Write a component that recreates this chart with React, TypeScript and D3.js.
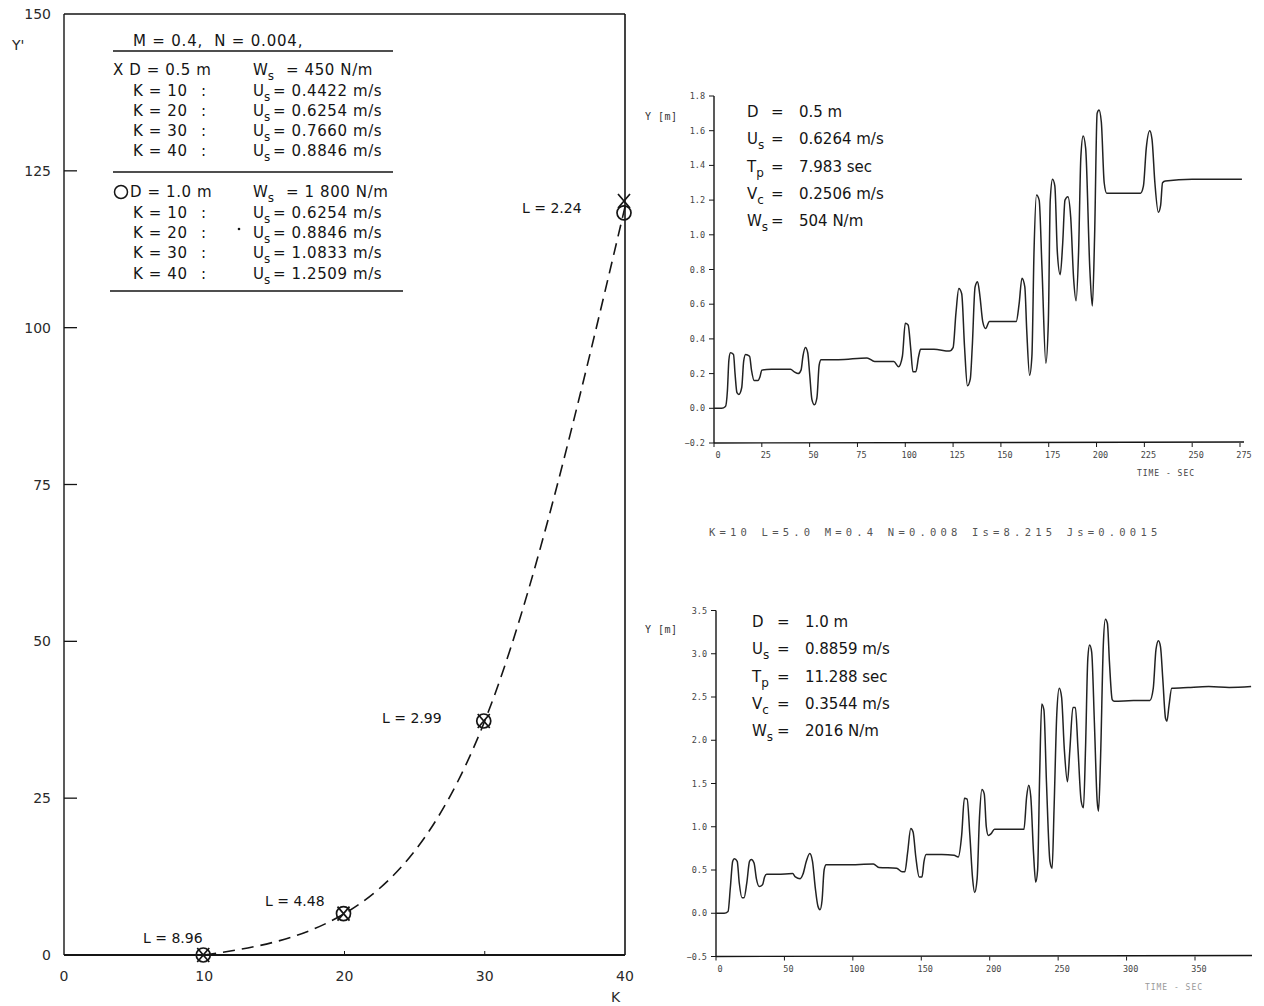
import React from "react";
import * as d3 from "d3";

// ---------- Left chart data ----------
const kValues = [10, 20, 30, 40];
const yPrimeSmall = [0, 6.6, 37.3, 120.2]; // D = 0.5 m (X)
const yPrimeLarge = [0, 6.6, 37.3, 118.3]; // D = 1.0 m (O)
const lLabels = ["L = 8.96", "L = 4.48", "L = 2.99", "L = 2.24"];
const leftYTicks = [0, 25, 50, 75, 100, 125, 150];
const leftXTicks = [0, 10, 20, 30, 40];

const legendTitle = "M = 0.4,  N = 0.004,";
const legendK = ["K = 10", "K = 20", "K = 30", "K = 40"];
const usSmall = ["= 0.4422 m/s", "= 0.6254 m/s", "= 0.7660 m/s", "= 0.8846 m/s"];
const usLarge = ["= 0.6254 m/s", "= 0.8846 m/s", "= 1.0833 m/s", "= 1.2509 m/s"];

// ---------- Top-right time series (D = 0.5 m) ----------
const topSeries: [number, number][] = [
  [0, 0], [4, 0], [6, 0.01], [7, 0.1], [7.8, 0.28], [8.6, 0.32], [10.2, 0.31], [11, 0.2], [12, 0.09], [13, 0.08],
  [14.5, 0.12], [15.5, 0.27], [16.5, 0.31], [18.6, 0.3], [19.6, 0.22], [21, 0.16], [23, 0.16], [24, 0.18], [25, 0.22],
  [30, 0.225], [40, 0.225], [42, 0.21], [44, 0.2], [45.5, 0.22], [46.5, 0.3], [47.8, 0.35], [49, 0.32], [50, 0.2],
  [51.2, 0.05], [52.5, 0.02], [53.8, 0.06], [55, 0.25], [56, 0.28], [65, 0.28], [80, 0.29], [84, 0.27], [94, 0.27],
  [96.5, 0.24], [98.5, 0.3], [100, 0.49], [101.5, 0.48], [102.8, 0.35], [104, 0.21], [105.5, 0.21], [107, 0.3],
  [108, 0.34], [115, 0.34], [123, 0.33], [125, 0.35], [126.5, 0.55], [128, 0.69], [129.5, 0.66], [131, 0.35],
  [132.5, 0.13], [134, 0.17], [135, 0.35], [136.5, 0.7], [137.8, 0.73], [139, 0.65], [140.5, 0.5], [142, 0.46],
  [144, 0.5], [158, 0.5], [159.5, 0.6], [161, 0.75], [162.5, 0.7], [163.5, 0.45], [165, 0.19], [166.2, 0.3],
  [167.3, 0.9], [168.6, 1.23], [170, 1.2], [171.5, 0.8], [173.5, 0.26], [174.8, 0.5], [175.8, 1.2], [177, 1.32],
  [178.2, 1.28], [179.5, 0.9], [181, 0.77], [182.3, 0.95], [183.5, 1.2], [185, 1.22], [186.5, 1.1], [188, 0.75],
  [189.3, 0.62], [190.6, 0.9], [191.8, 1.45], [193, 1.57], [194.3, 1.5], [196.5, 0.8], [197.8, 0.59], [199, 1.0],
  [200.3, 1.7], [201.3, 1.72], [202.5, 1.65], [204, 1.3], [205.3, 1.24], [215, 1.24], [223, 1.24], [224.5, 1.28],
  [226, 1.5], [227.8, 1.6], [229, 1.55], [230.5, 1.3], [232.3, 1.13], [233.5, 1.17], [234.5, 1.3], [236, 1.31],
  [250, 1.32], [260, 1.32], [276, 1.32],
];
const topYTicks = [-0.2, 0, 0.2, 0.4, 0.6, 0.8, 1.0, 1.2, 1.4, 1.6, 1.8];
const topXTicks = [0, 25, 50, 75, 100, 125, 150, 175, 200, 225, 250, 275];
const topLabels = ["D", "U", "T", "V", "W"];
const topSubs = ["", "s", "p", "c", "s"];
const topValues = ["0.5 m", "0.6264 m/s", "7.983 sec", "0.2506 m/s", "504 N/m"];

// ---------- Bottom-right time series (D = 1.0 m) ----------
const bottomSeries: [number, number][] = [
  [0, 0], [6, 0], [8.8, 0.02], [10.5, 0.3], [12.2, 0.6], [13.4, 0.63], [15.5, 0.6], [17, 0.35], [19, 0.18], [20.5, 0.18],
  [22.5, 0.35], [24.5, 0.6], [25.8, 0.62], [27.8, 0.58], [29.5, 0.4], [31.5, 0.31], [34, 0.33], [35.5, 0.42], [37, 0.45],
  [45, 0.45], [56, 0.46], [58, 0.42], [61.5, 0.4], [63.5, 0.45], [66, 0.6], [68.5, 0.69], [70.5, 0.6], [72.5, 0.3],
  [74.5, 0.08], [76, 0.04], [77.5, 0.15], [79, 0.5], [80.5, 0.56], [95, 0.56], [115, 0.57], [119, 0.53], [132, 0.52],
  [136, 0.48], [138, 0.48], [140, 0.7], [142.3, 0.98], [144, 0.94], [146, 0.65], [148.5, 0.42], [150.5, 0.42],
  [152, 0.6], [153.5, 0.68], [165, 0.68], [174, 0.67], [177, 0.65], [179.5, 0.9], [181.5, 1.33], [183.5, 1.32],
  [185.5, 0.9], [187.5, 0.4], [189, 0.24], [190.8, 0.4], [192.5, 1.1], [194.3, 1.43], [196, 1.38], [197.5, 1.0],
  [199, 0.9], [201, 0.92], [203.5, 0.97], [225, 0.97], [227, 1.35], [228.5, 1.48], [230, 1.35], [232, 0.7],
  [233.6, 0.36], [235, 0.5], [236.5, 1.6], [238, 2.42], [239.6, 2.35], [241.5, 1.5], [244, 0.6], [245.6, 0.52],
  [247, 1.2], [249, 2.3], [250.8, 2.6], [252.5, 2.5], [254.5, 1.9], [256.8, 1.52], [258.6, 1.9], [260.8, 2.38],
  [262.6, 2.38], [264.5, 1.9], [266.8, 1.3], [268.5, 1.22], [270, 1.9], [271.7, 2.95], [273, 3.1], [274.5, 3.02],
  [276.5, 2.2], [278.5, 1.3], [279.5, 1.18], [281, 1.8], [283, 3.1], [284.5, 3.4], [286, 3.35], [287.5, 2.9],
  [289.5, 2.47], [291, 2.45], [305, 2.46], [317, 2.46], [319.5, 2.6], [321.5, 3.05], [323.3, 3.15], [324.8, 3.08],
  [326.5, 2.7], [328.5, 2.25], [329.5, 2.22], [331, 2.4], [333, 2.6], [345, 2.61], [360, 2.62], [375, 2.61], [391, 2.62],
];
const bottomYTicks = [-0.5, 0, 0.5, 1.0, 1.5, 2.0, 2.5, 3.0, 3.5];
const bottomXTicks = [0, 50, 100, 150, 200, 250, 300, 350];
const bottomValues = ["1.0 m", "0.8859 m/s", "11.288 sec", "0.3544 m/s", "2016 N/m"];

const middleCaption = "K=10 L=5.0 M=0.4 N=0.008 Is=8.215 Js=0.0015";

const INK = "#151515";
const SANS = "'DejaVu Sans', 'Liberation Sans', sans-serif";
const MONO = "'DejaVu Sans Mono', 'Liberation Mono', monospace";

function Sub({ x, y, main, sub, size = 15 }: { x: number; y: number; main: string; sub: string; size?: number }) {
  return (
    <text x={x} y={y} fontFamily={SANS} fontSize={size} fill={INK}>
      {main}
      {sub ? (
        <tspan fontSize={size * 0.8} dy={5}>
          {sub}
        </tspan>
      ) : null}
    </text>
  );
}

function LeftChart() {
  const x = d3.scaleLinear().domain([0, 40]).range([64, 625]);
  const y = d3.scaleLinear().domain([0, 150]).range([955, 14]);
  const mean = kValues.map((k, i) => [k, (yPrimeSmall[i] + yPrimeLarge[i]) / 2] as [number, number]);
  const path = d3
    .line<[number, number]>()
    .x((d) => x(d[0]))
    .y((d) => y(d[1]))
    .curve(d3.curveMonotoneX)(mean);
  const lPos: [number, number][] = [
    [143, 943],
    [265, 906],
    [382, 723],
    [522, 213],
  ];
  const rowY1 = [75, 96, 116, 136, 156];
  const rowY2 = [197, 218, 238, 258, 279];
  const txt = { fontFamily: SANS, fontSize: 15, fill: INK } as const;
  return (
    <g>
      {/* frame */}
      <line x1={x(0)} y1={y(0)} x2={x(0)} y2={y(150)} stroke={INK} strokeWidth={1.4} />
      <line x1={x(0)} y1={y(150)} x2={x(40)} y2={y(150)} stroke={INK} strokeWidth={1.6} />
      <line x1={x(40)} y1={y(150)} x2={x(40)} y2={y(0)} stroke={INK} strokeWidth={1.6} />
      <line x1={x(0)} y1={y(0)} x2={x(40)} y2={y(0)} stroke={INK} strokeWidth={1.8} />
      {leftYTicks.map((t) => (
        <g key={"ly" + t}>
          {t > 0 && t < 150 ? (
            <line x1={x(0)} x2={x(0) + 13} y1={y(t)} y2={y(t)} stroke={INK} strokeWidth={1.3} />
          ) : null}
          <text x={51} y={y(t) + 5} textAnchor="end" fontFamily={SANS} fontSize={14} fill="#2a2a2a">
            {t}
          </text>
        </g>
      ))}
      {leftXTicks.map((t) => (
        <text key={"lx" + t} x={x(t)} y={981} textAnchor="middle" fontFamily={SANS} fontSize={14} fill="#2a2a2a">
          {t}
        </text>
      ))}
      {[20, 30].map((t) => (
        <line key={"mt" + t} x1={x(t)} x2={x(t)} y1={y(0)} y2={y(0) - 4} stroke={INK} strokeWidth={1} />
      ))}
      <text x={12} y={50} fontFamily={SANS} fontSize={14} fill="#2a2a2a">
        Y'
      </text>
      <text x={611} y={1002} fontFamily={SANS} fontSize={14} fill="#2a2a2a">
        K
      </text>

      {/* dashed curve */}
      <path d={path || ""} fill="none" stroke={INK} strokeWidth={1.6} strokeDasharray="12 7" />

      {/* markers */}
      {kValues.map((k, i) => (
        <g key={"mk" + k}>
          <circle cx={x(k) - 1} cy={y(yPrimeLarge[i])} r={7} fill="none" stroke={INK} strokeWidth={1.7} />
          <path
            d={`M${x(k) - 7},${y(yPrimeSmall[i]) - 7}L${x(k) + 5},${y(yPrimeSmall[i]) + 7}M${x(k) + 5},${y(yPrimeSmall[i]) - 7}L${x(k) - 7},${y(yPrimeSmall[i]) + 7}`}
            stroke={INK}
            strokeWidth={1.7}
            fill="none"
          />
        </g>
      ))}
      {lLabels.map((l, i) => (
        <text key={l} x={lPos[i][0]} y={lPos[i][1]} fontFamily={SANS} fontSize={14} fill={INK}>
          {l}
        </text>
      ))}

      {/* legend */}
      <text x={133} y={46} {...txt} letterSpacing={0.8} style={{ whiteSpace: "pre" }}>
        {legendTitle}
      </text>
      <line x1={113} x2={393} y1={51} y2={51} stroke={INK} strokeWidth={1.3} />
      <text x={113} y={rowY1[0]} {...txt} letterSpacing={0.6}>
        X D = 0.5 m
      </text>
      <Sub x={253} y={rowY1[0]} main="W" sub="s" />
      <text x={286} y={rowY1[0]} {...txt} letterSpacing={0.6}>
        = 450 N/m
      </text>
      {legendK.map((k, i) => (
        <g key={"l1" + k}>
          <text x={133} y={rowY1[i + 1]} {...txt} letterSpacing={0.6}>
            {k}
          </text>
          <text x={201} y={rowY1[i + 1]} {...txt}>
            :
          </text>
          <Sub x={253} y={rowY1[i + 1]} main="U" sub="s" />
          <text x={273} y={rowY1[i + 1]} {...txt} letterSpacing={0.6}>
            {usSmall[i]}
          </text>
        </g>
      ))}
      <line x1={113} x2={393} y1={172} y2={172} stroke={INK} strokeWidth={1.3} />
      <circle cx={121} cy={rowY2[0] - 5} r={6.5} fill="none" stroke={INK} strokeWidth={1.5} />
      <text x={130} y={rowY2[0]} {...txt} letterSpacing={0.6}>
        D = 1.0 m
      </text>
      <Sub x={253} y={rowY2[0]} main="W" sub="s" />
      <text x={286} y={rowY2[0]} {...txt} letterSpacing={0.6}>
        = 1 800 N/m
      </text>
      {legendK.map((k, i) => (
        <g key={"l2" + k}>
          <text x={133} y={rowY2[i + 1]} {...txt} letterSpacing={0.6}>
            {k}
          </text>
          <text x={201} y={rowY2[i + 1]} {...txt}>
            :
          </text>
          <Sub x={253} y={rowY2[i + 1]} main="U" sub="s" />
          <text x={273} y={rowY2[i + 1]} {...txt} letterSpacing={0.6}>
            {usLarge[i]}
          </text>
        </g>
      ))}
      <circle cx={239} cy={229} r={1.3} fill={INK} />
      <line x1={110} x2={403} y1={291} y2={291} stroke={INK} strokeWidth={1.3} />
    </g>
  );
}

function TimeChart({
  series,
  xDomain,
  xRange,
  yDomain,
  yRange,
  xTicks,
  yTicks,
  axisEnd,
  values,
  labelX,
  eqX,
  valueX,
  textTop,
  yLabelY,
  timeLabelY,
  timeLabelX,
  faint,
}: {
  series: [number, number][];
  xDomain: [number, number];
  xRange: [number, number];
  yDomain: [number, number];
  yRange: [number, number];
  xTicks: number[];
  yTicks: number[];
  axisEnd: number;
  values: string[];
  labelX: number;
  eqX: number;
  valueX: number;
  textTop: number;
  yLabelY: number;
  timeLabelY: number;
  timeLabelX: number;
  faint: boolean;
}) {
  const x = d3.scaleLinear().domain(xDomain).range(xRange);
  const y = d3.scaleLinear().domain(yDomain).range(yRange);
  const path = d3
    .line<[number, number]>()
    .x((d) => x(d[0]))
    .y((d) => y(d[1]))
    .curve(d3.curveMonotoneX)(series);
  const x0 = x(xDomain[0]);
  const yBottom = y(yDomain[0]);
  const yTop = y(yDomain[1]);
  const fmt = d3.format(".1f");
  return (
    <g>
      <line x1={x0} x2={x0} y1={yTop} y2={yBottom} stroke={INK} strokeWidth={1.4} />
      <line x1={x0} x2={axisEnd} y1={yBottom} y2={yBottom - 1} stroke={INK} strokeWidth={1.4} />
      {yTicks.map((t) => (
        <g key={"y" + t}>
          <line x1={x0 - 5} x2={x0} y1={y(t)} y2={y(t)} stroke={INK} strokeWidth={1} />
          <text x={x0 - 9} y={y(t) + 3} textAnchor="end" fontFamily={MONO} fontSize={8.5} fill="#444">
            {fmt(t)}
          </text>
        </g>
      ))}
      {xTicks.map((t) => (
        <g key={"x" + t}>
          <line x1={x(t)} x2={x(t)} y1={yBottom} y2={yBottom + 4} stroke={INK} strokeWidth={1} />
          <text x={x(t) + 4} y={yBottom + 15} textAnchor="middle" fontFamily={MONO} fontSize={8.5} fill="#444">
            {t}
          </text>
        </g>
      ))}
      <text x={645} y={yLabelY} fontFamily={MONO} fontSize={10} fill="#333" letterSpacing={0.5}>
        Y [m]
      </text>
      <text
        x={timeLabelX}
        y={timeLabelY}
        textAnchor="middle"
        fontFamily={MONO}
        fontSize={8}
        fill={faint ? "#999" : "#444"}
        letterSpacing={1}
      >
        TIME - SEC
      </text>
      <path d={path || ""} fill="none" stroke="#222" strokeWidth={1.5} strokeLinejoin="round" />
      {topLabels.map((l, i) => (
        <g key={"a" + l + i}>
          <Sub x={labelX} y={textTop + i * 27.3} main={l} sub={topSubs[i]} />
          <text x={eqX} y={textTop + i * 27.3} fontFamily={SANS} fontSize={15} fill={INK}>
            =
          </text>
          <text x={valueX} y={textTop + i * 27.3} fontFamily={SANS} fontSize={15} fill={INK}>
            {values[i]}
          </text>
        </g>
      ))}
    </g>
  );
}

export default function App() {
  return (
    <svg
      width={1264}
      height={1006}
      viewBox="0 0 1264 1006"
      style={{ position: "absolute", left: 0, top: 0, background: "#fff" }}
    >
      <rect x={0} y={0} width={1264} height={1006} fill="#fff" />
      <LeftChart />
      <TimeChart
        series={topSeries}
        xDomain={[0, 275]}
        xRange={[714, 1240]}
        yDomain={[-0.2, 1.8]}
        yRange={[443, 96]}
        xTicks={topXTicks}
        yTicks={topYTicks}
        axisEnd={1244}
        values={topValues}
        labelX={747}
        eqX={771}
        valueX={799}
        textTop={117}
        yLabelY={120}
        timeLabelY={476}
        timeLabelX={1166}
        faint={false}
      />
      <text x={709} y={536} fontFamily={MONO} fontSize={10.5} fill="#555" letterSpacing={4.2}>
        {middleCaption}
      </text>
      <TimeChart
        series={bottomSeries}
        xDomain={[0, 350]}
        xRange={[716, 1195]}
        yDomain={[-0.5, 3.5]}
        yRange={[956.5, 610.5]}
        xTicks={bottomXTicks}
        yTicks={bottomYTicks}
        axisEnd={1252}
        values={bottomValues}
        labelX={752}
        eqX={777}
        valueX={805}
        textTop={627}
        yLabelY={633}
        timeLabelY={990}
        timeLabelX={1174}
        faint={true}
      />
    </svg>
  );
}
